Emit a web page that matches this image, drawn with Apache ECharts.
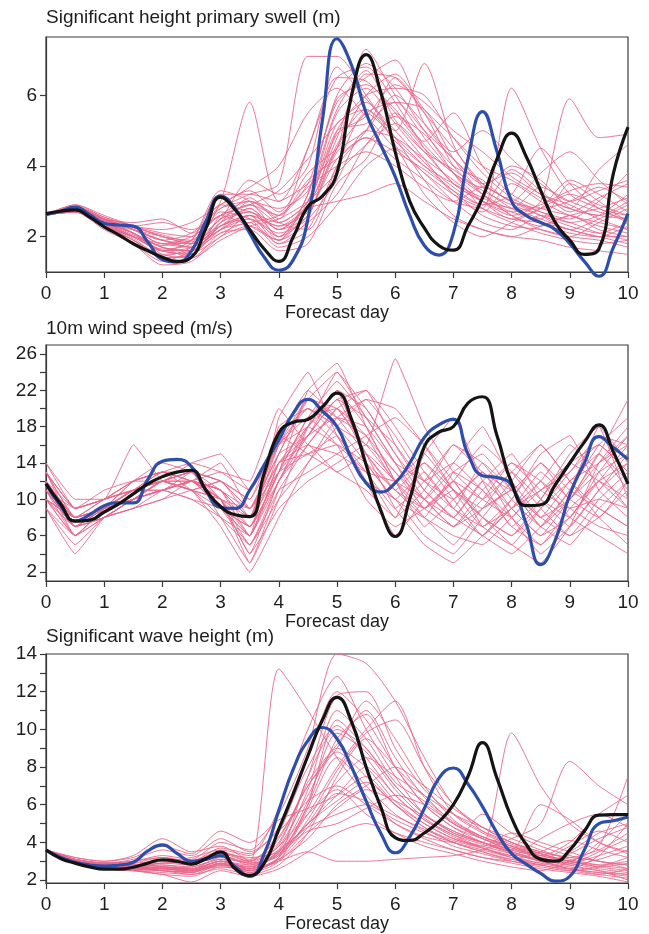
<!DOCTYPE html>
<html>
<head>
<meta charset="utf-8">
<title>Ensemble forecast plumes</title>
<script src="https://cdn.jsdelivr.net/npm/echarts@6/dist/echarts.min.js"></script>
<style>
  html, body { margin: 0; padding: 0; background: #ffffff; }
  #chart { width: 649px; height: 934px; }
</style>
</head>
<body>
<div id="chart"></div>
<script>
// Time axes (forecast day)
const halfDays = [0,0.5,1,1.5,2,2.5,3,3.5,4,4.5,5,5.5,6,6.5,7,7.5,8,8.5,9,9.5,10];
const quarterDays = [0,0.25,0.5,0.75,1,1.25,1.5,1.75,2,2.25,2.5,2.75,3,3.25,3.5,3.75,4,4.25,4.5,4.75,5,
  5.25,5.5,5.75,6,6.25,6.5,6.75,7,7.25,7.5,7.75,8,8.25,8.5,8.75,9,9.25,9.5,9.75,10];
const dayTicks = [0,1,2,3,4,5,6,7,8,9,10];

// Panel titles
const titles = ['Significant height primary swell (m)', '10m wind speed (m/s)', 'Significant wave height (m)'];
const xName = 'Forecast day';

// Tick values on the vertical axes
const swellTicks = [2,4,6];
const swellLabels = [2,4,6];
const windTicks = [2,4,6,8,10,12,14,16,18,20,22,24,26];
const windLabels = [2,6,10,14,18,22,26];
const waveTicks = [2,3,4,5,6,7,8,9,10,11,12,13,14];
const waveLabels = [2,4,6,8,10,12,14];

// Primary swell height (m): ensemble members every 12 h
const swellMembers = [
  [2.62,2.8,2.4,2.1,1.6,1.5,2.6,3.0,2.5,4.5,6.5,6.8,5.8,4.5,3.5,3.0,2.8,2.5,2.2,2.0,1.8],
  [2.62,2.75,2.5,2.2,1.9,1.7,2.4,2.8,2.0,3.0,5.5,6.2,5.2,4.2,3.2,2.7,3.5,3.0,2.6,2.4,2.2],
  [2.63,2.9,2.6,2.3,2.0,1.8,3.0,5.8,3.0,3.5,4.5,7.3,6.0,4.8,3.8,3.0,2.5,2.8,3.2,2.9,2.6],
  [2.62,2.7,2.3,1.9,1.4,1.5,2.0,2.6,1.8,2.2,4.0,5.0,6.5,5.5,4.0,3.2,2.6,2.2,2.0,2.4,2.8],
  [2.62,2.85,2.5,2.4,2.5,2.1,2.8,3.2,3.5,7.1,7.1,6.0,4.8,3.6,2.6,2.2,2.0,1.9,1.7,1.6,1.5],
  [2.62,2.7,2.2,1.8,1.3,1.6,2.2,2.4,2.6,3.5,5.8,6.5,7.0,5.2,4.2,3.5,3.0,2.8,3.0,3.4,3.0],
  [2.62,2.8,2.4,2.0,1.6,1.9,3.3,3.0,2.2,2.6,4.6,5.6,5.0,6.9,4.6,3.4,2.8,2.4,2.1,2.0,2.3],
  [2.63,2.75,2.35,2.0,1.7,1.4,2.1,2.2,1.6,1.8,3.5,4.2,5.5,4.6,3.8,3.4,4.0,3.6,2.8,2.6,2.5],
  [2.62,2.9,2.55,2.3,2.2,2.4,2.9,3.4,4.0,5.5,6.2,5.4,4.5,3.8,3.0,2.4,2.2,2.6,2.4,2.1,1.9],
  [2.62,2.7,2.3,1.8,1.2,1.3,2.0,2.3,1.9,2.8,4.8,6.6,6.5,5.5,4.5,3.5,3.0,2.6,2.2,2.5,2.9],
  [2.62,2.8,2.5,2.2,1.8,2.0,2.6,2.9,3.3,4.2,5.2,5.8,4.6,3.2,2.4,2.0,2.4,2.8,3.6,3.2,2.7],
  [2.62,2.75,2.4,2.1,1.7,1.6,2.3,2.6,2.3,2.7,4.2,4.8,4.2,3.6,3.0,2.8,6.2,4.5,3.2,2.8,2.4],
  [2.63,2.8,2.45,2.2,1.9,1.7,2.5,2.7,2.0,3.2,5.9,6.3,5.6,4.7,5.5,4.0,3.2,2.8,2.6,2.3,2.1],
  [2.62,2.85,2.5,2.1,1.5,1.4,1.9,2.3,2.5,3.0,3.8,4.6,5.2,4.4,3.5,3.0,2.6,3.0,5.9,4.8,4.9],
  [2.62,2.7,2.3,2.0,1.6,1.5,2.4,3.1,2.4,2.2,4.0,5.5,4.8,4.0,3.3,2.6,2.3,2.2,2.0,1.9,1.7],
  [2.62,2.75,2.4,2.2,2.0,1.8,2.7,2.5,1.8,2.5,5.0,6.0,6.2,6.0,4.8,3.8,3.1,2.7,2.4,2.6,3.2],
  [2.62,2.8,2.45,2.1,1.6,1.7,2.3,2.8,2.2,2.8,3.0,3.2,3.5,3.0,2.5,2.2,2.0,2.3,2.6,2.8,3.1],
  [2.62,2.8,2.5,2.3,2.1,2.0,2.9,3.3,2.7,3.8,4.5,5.5,5.8,5.0,4.2,3.5,3.8,3.2,2.9,2.5,2.2],
  [2.62,2.7,2.35,1.9,1.5,1.6,2.1,2.4,1.7,2.0,2.9,4.0,4.5,3.8,3.2,2.8,2.5,2.4,2.2,2.0,2.0],
  [2.62,2.85,2.5,2.2,1.8,1.9,3.2,3.2,3.0,4.5,6.5,6.4,5.5,4.5,3.8,3.2,2.8,3.4,3.0,2.7,2.5],
  [2.63,2.75,2.4,2.0,1.6,1.6,2.3,2.5,2.0,2.6,4.4,5.0,6.0,5.2,4.4,5.0,4.2,3.5,3.0,3.3,3.6],
  [2.62,2.8,2.45,2.3,2.4,2.2,2.6,2.9,2.4,3.0,5.2,5.6,4.7,4.0,3.5,3.1,2.7,2.5,3.5,3.0,2.4],
  [2.62,2.7,2.3,1.9,1.4,1.5,2.2,2.6,1.9,3.2,6.0,6.9,6.2,5.0,3.8,2.8,2.4,2.1,1.9,1.8,1.9],
  [2.62,2.8,2.5,2.2,1.9,1.8,2.5,2.9,2.6,3.4,4.0,4.4,4.0,3.4,3.0,3.4,3.0,2.7,2.5,3.0,3.8],
  [2.62,2.75,2.4,2.1,1.7,1.6,2.4,2.7,2.2,2.9,5.0,5.2,5.8,5.6,4.2,3.2,2.6,2.3,2.6,2.2,2.0],
  [2.62,2.8,2.5,2.2,1.9,2.1,2.8,3.0,2.6,3.6,4.2,4.8,4.4,3.9,3.3,2.9,3.2,4.5,3.5,2.8,2.6],
  [2.62,2.85,2.55,2.3,2.0,1.9,2.3,2.6,2.3,2.9,4.5,6.0,6.6,5.6,4.8,4.0,3.6,3.1,2.8,2.6,3.0],
  [2.62,2.7,2.3,2.0,1.8,1.7,2.2,2.5,2.1,2.5,3.6,5.0,4.8,4.2,3.6,3.0,2.7,2.9,3.3,3.5,3.4],
  [2.62,2.78,2.42,2.05,1.75,1.9,2.5,3.6,3.2,4.0,6.8,5.9,5.0,4.1,3.4,2.9,3.9,3.3,2.7,3.1,3.5],
  [2.62,2.72,2.35,1.95,1.45,1.7,2.6,2.3,1.9,2.4,3.2,4.6,5.4,4.9,4.0,3.6,3.0,3.8,4.4,3.6,2.9],
  [2.62,2.82,2.48,2.25,2.05,1.85,2.2,3.0,2.8,3.3,5.6,6.7,5.3,4.4,3.9,3.3,2.9,2.6,2.3,2.1,2.4],
  [2.62,2.76,2.38,2.0,1.65,1.8,2.9,2.7,2.4,3.0,4.9,5.4,6.3,5.8,5.0,4.4,3.7,3.2,2.8,3.9,4.6]
];
// Primary swell height (m): high-resolution run (blue) and control (black), every 6 h
const swellBlue = [2.62,2.72,2.84,2.62,2.38,2.33,2.3,1.85,1.35,1.28,1.6,2.45,3.15,2.8,2.1,1.42,1.05,1.35,2.5,5.3,7.6,
  6.85,5.5,4.6,3.7,2.6,1.75,1.48,2.1,4.2,5.54,4.4,3.0,2.6,2.4,2.2,1.8,1.3,0.88,1.7,2.65];
const swellBlack = [2.65,2.72,2.76,2.55,2.28,2.05,1.8,1.6,1.42,1.3,1.42,2.25,3.12,2.76,2.2,1.65,1.3,2.0,2.85,3.15,3.8,
  6.0,7.15,6.1,4.4,3.0,2.25,1.75,1.62,2.3,3.1,4.2,4.93,4.27,3.3,2.4,1.9,1.5,1.65,3.8,5.1];

// 10 m wind speed (m/s): ensemble members every 12 h
const windMembers = [
  [12,7,9,11,11,12,9,6,14,17,22,18,12,8,5,9,11,7,10,14,16],
  [10,8,9,10,12,13,10,4,12,16,20,22,16,11,8,12,9,6,8,12,10],
  [13,9,10,12,13,11,8,3,10,18,24,19,14,9,12,7,5,9,13,16,13],
  [11,6,8,10,11,12,14,9,16,20,18,14,10,13,9,6,10,14,11,9,7],
  [14,10,10,16,12,11,7,2,8,14,19,21,17,12,9,14,11,7,5,9,12],
  [9,5,8,9,10,12,11,7,13,22,25,18,12,7,10,13,8,4,7,11,15],
  [12,8,9,11,12,13,12,10,17,15,13,11,8,15,19,12,7,10,14,12,9],
  [10,7,8,10,11,10,9,6,19,24,17,12,10,6,4,8,12,16,12,8,5],
  [11,9,10,12,13,14,13,11,16,18,22,20,15,10,7,9,13,10,8,13,17],
  [13,7,9,10,12,11,10,8,14,15,16,14,11,9,12,16,13,9,6,8,11],
  [12,8,10,11,11,13,8,5,11,13,15,17,19,16,12,8,5,3,7,14,18],
  [10,6,9,12,14,13,10,9,15,21,20,16,25.5,18,13,10,8,12,9,7,6],
  [9,4,8,10,12,12,11,6,12,17,21,15,9,5,3,6,9,11,14,16,13],
  [11,8,9,10,11,12,13,12,20,16,15,13,12,14,11,9,11,8,10,15,21],
  [14,9,10,11,12,11,9,7,13,19,23,19,14,10,13,11,7,5,9,12,14],
  [12,7,8,9,10,11,12,8,18,20,17,13,8,11,16,14,10,7,11,18,10],
  [10,8,9,11,13,12,10,4,9,12,14,16,13,9,7,11,14,12,8,6,4],
  [13,9,11,12,12,14,15,11,17,22,19,15,11,8,6,5,8,11,13,17,16],
  [11,7,9,10,11,10,8,6,14,18,21,22,18,13,9,7,10,15,17,11,8],
  [12,8,10,12,13,13,11,9,13,15,17,12,6,10,14,18,12,8,6,10,13],
  [9,6,8,9,11,12,10,3,11,16,20,17,12,15,11,8,6,9,12,15,11],
  [11,7,9,11,12,11,12,10,16,19,16,10,7,9,12,10,13,16,12,9,7],
  [13,8,9,10,12,13,9,7,15,21,24,20,15,11,8,6,4,7,11,16,19],
  [10,7,8,10,11,12,11,8,13,17,19,18,14,12,10,13,9,6,10,13,15],
  [12,9,10,11,12,11,10,5,10,14,18,21,20,16,11,7,9,13,10,8,12],
  [11,8,9,12,13,12,10,7,12,18,22,14,10,8,13,15,11,8,12,14,17],
  [10,6,9,11,12,13,12,9,14,16,13,15,12,10,7,10,14,11,9,10,9],
  [13,8,9,10,11,12,11,8,17,20,18,16,12,9,11,8,6,10,15,18,14],
  [12,6,9,10,12,12,10,6,13,19,20,15,11,14,10,6,9,12,16,13,9],
  [10,8,9,11,12,13,12,9,15,17,21,19,16,12,14,11,8,5,8,12,16],
  [11,7,8,10,11,12,9,5,12,18,16,13,9,12,16,13,11,14,10,15,12],
  [13,9,10,11,13,12,11,8,16,21,19,17,13,10,8,12,15,10,7,11,14]
];
const windBlue = [11.7,9.3,7.6,8.3,9.3,9.6,9.6,12.2,14.2,14.4,13.6,11.0,9.1,9.0,11.0,13.8,16.5,19.5,21.0,19.7,18.0,
  14.5,11.8,10.8,11.8,14.0,16.8,18.2,18.8,15.0,12.6,12.4,11.5,7.3,2.8,5.5,10.5,14.0,16.9,15.7,14.4];
const windBlack = [11.7,9.5,7.6,7.7,8.6,9.5,10.6,11.7,12.5,13.0,13.2,11.0,9.2,8.3,8.1,12.9,17.3,18.5,18.8,20.2,21.7,
  18.8,13.8,8.8,5.9,10.0,15.8,17.4,18.0,20.6,21.3,17.0,11.8,9.3,9.4,11.6,14.0,16.3,18.2,15.2,11.7];

// Significant wave height (m): ensemble members every 12 h
const waveMembers = [
  [3.6,3.0,2.7,2.6,2.6,2.5,2.8,2.4,3.2,6.0,10.5,9.0,7.0,5.5,4.5,4.0,3.6,3.2,2.9,3.3,3.8],
  [3.6,3.1,2.8,2.9,3.2,2.9,3.5,3.0,4.5,8.5,12.0,10.5,8.0,6.0,4.8,4.0,3.5,3.0,2.6,2.4,2.2],
  [3.6,3.2,3.0,3.3,4.2,3.5,3.8,3.0,13.2,11.0,8.5,6.5,5.0,4.2,3.6,3.2,3.0,2.8,3.5,4.5,5.0],
  [3.6,2.9,2.6,2.5,2.4,2.3,2.6,2.3,2.8,4.5,7.5,9.5,8.0,6.5,5.0,4.2,3.6,3.3,4.0,5.5,6.5],
  [3.6,3.0,2.8,2.7,2.9,3.0,3.4,3.2,3.5,5.0,6.5,8.0,6.5,5.2,4.4,3.8,4.5,4.0,3.5,3.0,2.8],
  [3.6,3.1,2.9,3.0,3.3,3.1,4.0,3.6,5.5,9.0,14.0,13.5,11.5,8.5,6.0,4.8,4.0,3.5,3.2,3.0,2.6],
  [3.6,2.9,2.7,2.6,2.7,2.5,3.0,2.8,3.6,4.8,5.5,6.0,5.2,4.5,4.0,3.6,3.2,2.9,2.6,2.4,2.3],
  [3.6,3.0,2.7,2.5,2.3,2.2,2.7,2.6,4.2,7.0,9.0,11.5,9.5,7.0,5.2,4.3,3.8,3.4,3.0,2.7,2.5],
  [3.6,3.1,2.9,2.8,3.0,3.2,3.6,3.3,5.8,10.0,12.8,10.0,7.5,5.5,4.5,4.0,9.8,7.0,5.0,4.0,3.5],
  [3.6,3.0,2.8,2.6,2.5,2.4,2.9,2.5,3.0,3.5,3.0,3.0,3.1,3.2,3.3,3.6,4.2,5.0,8.3,7.0,6.0],
  [3.6,2.9,2.6,2.5,2.6,2.7,3.1,3.0,3.8,6.5,9.0,8.0,6.2,5.0,4.2,3.8,3.4,3.0,2.7,2.5,2.0],
  [3.6,3.0,2.8,2.8,3.0,2.9,3.3,2.8,3.5,5.5,8.0,10.0,11.5,8.0,5.5,4.5,3.8,3.2,2.9,3.5,4.2],
  [3.6,3.1,2.9,3.1,3.6,3.3,4.2,3.5,4.6,6.2,7.0,6.0,5.0,4.3,4.0,5.5,4.5,3.8,3.3,3.0,2.8],
  [3.6,3.0,2.7,2.6,2.5,2.4,2.8,2.6,3.4,4.6,5.0,5.8,6.5,6.0,5.0,4.2,3.6,6.0,5.2,4.0,3.4],
  [3.6,2.9,2.7,2.7,2.8,2.6,3.0,2.4,3.0,5.8,8.5,7.0,5.5,4.6,3.8,3.4,3.0,2.7,2.5,2.7,3.2],
  [3.6,3.0,2.8,2.7,2.6,2.5,2.7,2.5,3.2,7.5,10.0,9.0,7.0,5.5,4.6,4.0,3.4,3.0,2.6,2.3,2.1],
  [3.6,3.2,3.0,3.2,3.8,3.4,4.6,4.0,5.2,5.8,6.5,7.5,6.0,4.8,4.1,3.7,3.3,4.2,5.0,5.5,4.8],
  [3.6,3.0,2.8,2.6,2.6,2.5,3.0,2.7,3.6,6.8,11.0,9.5,7.2,6.2,5.0,4.3,3.8,3.3,3.0,2.8,3.0],
  [3.6,2.9,2.6,2.5,2.3,1.9,2.5,2.2,2.6,3.5,4.5,5.0,4.5,4.0,3.6,3.2,2.9,2.6,2.4,2.2,1.9],
  [3.6,3.1,2.9,2.8,2.9,3.0,3.5,3.1,4.0,7.5,11.8,12.0,9.0,6.8,5.5,4.6,4.0,3.5,3.2,3.6,4.5],
  [3.6,3.0,2.7,2.6,2.7,2.6,3.2,2.9,3.3,5.0,7.2,8.5,7.5,6.5,5.5,4.8,4.2,3.6,3.1,2.8,2.6],
  [3.6,3.0,2.8,2.7,2.8,2.7,3.1,2.6,3.1,4.2,6.0,7.0,8.0,7.0,5.8,4.8,4.0,3.4,3.0,4.0,5.5],
  [3.6,3.1,2.9,3.0,3.2,3.0,3.7,3.4,4.8,8.0,10.2,8.5,6.5,5.2,4.3,3.7,3.2,2.8,2.5,2.3,2.6],
  [3.6,3.0,2.7,2.6,2.5,2.3,2.8,2.7,3.8,5.5,6.8,5.5,4.5,3.8,3.4,3.0,2.7,2.5,3.0,3.8,7.5],
  [3.6,2.9,2.7,2.7,2.9,2.8,3.3,2.9,3.3,6.0,9.5,10.8,8.0,6.0,4.8,4.2,3.7,3.3,2.9,2.6,2.4],
  [3.6,3.0,2.8,2.7,2.7,2.6,3.0,2.6,3.0,4.5,5.8,6.8,6.2,5.4,4.6,4.0,3.5,3.1,3.8,4.6,4.0],
  [3.6,3.1,2.9,2.9,3.0,2.8,3.4,3.0,4.3,7.0,8.8,7.5,6.0,4.8,4.0,3.5,3.1,2.8,2.6,3.3,5.0],
  [3.6,3.0,2.7,2.6,2.6,2.4,2.9,2.5,3.2,5.2,7.8,9.8,10.5,8.0,6.0,4.6,3.9,3.4,3.0,2.7,2.9],
  [3.6,3.05,2.75,2.65,2.7,2.6,3.0,2.7,3.5,6.2,9.8,8.8,6.8,5.3,4.4,3.9,3.5,3.1,2.8,3.1,3.6],
  [3.6,2.95,2.7,2.6,2.5,2.45,2.9,2.6,3.4,5.0,6.2,7.2,6.0,5.0,4.2,3.7,3.3,2.9,3.4,4.2,4.8],
  [3.6,3.1,2.85,2.8,3.0,2.85,3.3,2.9,3.9,7.2,9.2,11.0,8.5,6.4,5.1,4.3,3.7,3.2,2.8,2.5,2.3],
  [3.6,3.0,2.75,2.65,2.65,2.55,2.85,2.5,3.1,4.8,6.6,6.2,5.4,4.7,4.0,3.5,3.1,3.5,4.1,3.6,3.2]
];
const waveBlue = [3.6,3.2,2.95,2.8,2.74,2.8,2.95,3.55,3.87,3.42,3.0,3.1,3.3,2.7,2.2,3.4,5.7,7.9,9.4,10.1,9.5,
  8.0,6.2,4.5,3.45,4.3,5.8,7.4,7.95,7.1,5.9,4.5,3.4,2.85,2.35,1.95,2.2,3.6,5.0,5.15,5.35];
const waveBlack = [3.6,3.15,2.9,2.7,2.58,2.58,2.68,2.9,3.08,3.0,2.85,3.15,3.5,2.6,2.25,2.9,4.7,6.6,8.6,10.5,11.7,
  10.4,8.0,5.9,4.25,4.1,4.5,5.1,6.0,7.5,9.3,7.4,5.3,3.9,3.1,3.0,3.6,4.6,5.45,5.47,5.47];

// Styling
const FONT = '"Liberation Sans", Arial, Helvetica, sans-serif';
const INK = '#1e1e1e';
const MEMBER_COLOR = '#e8688b';
const BLUE = '#2d4eab';
const BLACK = '#141414';

function pairs(xs, ys) { return xs.map((x, i) => [x, ys[i]]); }

// Wind members are drawn with sharper corners than the wave fields
const panels = [
  { top: 37, height: 235, min: 1, max: 7.65, ticks: swellTicks, labels: swellLabels,
    members: swellMembers, blue: swellBlue, black: swellBlack, titleTop: 8, memberSmooth: 0.25 },
  { top: 345, height: 236, min: 1, max: 27, ticks: windTicks, labels: windLabels,
    members: windMembers, blue: windBlue, black: windBlack, titleTop: 319, memberSmooth: 0.1 },
  { top: 654, height: 233, min: 1.84, max: 14, ticks: waveTicks, labels: waveLabels,
    members: waveMembers, blue: waveBlue, black: waveBlack, titleTop: 627, memberSmooth: 0.25 }
];

const option = {
  backgroundColor: '#ffffff',
  animation: false,
  title: panels.map((p, i) => ({
    text: titles[i], left: 46, top: p.titleTop, padding: 0,
    textStyle: { fontFamily: FONT, fontSize: 19, fontWeight: 'normal', color: INK }
  })),
  grid: panels.map(p => ({
    left: 46, right: 21, top: p.top, height: p.height,
    show: true, borderColor: '#3a3a3a', borderWidth: 1.2, backgroundColor: 'transparent'
  })),
  xAxis: panels.map((p, i) => ({
    type: 'value', gridIndex: i, min: 0, max: 10, interval: 1,
    name: xName, nameLocation: 'middle', nameGap: 30,
    nameTextStyle: { fontFamily: FONT, fontSize: 18, color: INK },
    axisLine: { show: true, lineStyle: { color: '#3a3a3a', width: 1.2 } },
    axisTick: { show: true, inside: false, length: 6, lineStyle: { color: '#3a3a3a', width: 1.2 },
      customValues: dayTicks },
    axisLabel: { fontFamily: FONT, fontSize: 19, color: INK, margin: 12, customValues: dayTicks },
    splitLine: { show: false }
  })),
  yAxis: panels.map((p, i) => ({
    type: 'value', gridIndex: i, min: p.min, max: p.max,
    axisLine: { show: true, lineStyle: { color: '#3a3a3a', width: 1.2 } },
    axisTick: { show: true, inside: false, length: 6, lineStyle: { color: '#3a3a3a', width: 1.2 },
      customValues: p.ticks },
    axisLabel: { fontFamily: FONT, fontSize: 19, color: INK, margin: 9, customValues: p.labels },
    splitLine: { show: false }
  })),
  series: []
};

panels.forEach((p, i) => {
  p.members.forEach((m, k) => {
    option.series.push({
      type: 'line', name: 'member ' + (k + 1), xAxisIndex: i, yAxisIndex: i,
      data: pairs(halfDays, m), showSymbol: false, smooth: p.memberSmooth, z: 2,
      lineStyle: { color: MEMBER_COLOR, width: 0.9, opacity: 1 },
      silent: true
    });
  });
  option.series.push({
    type: 'line', name: 'high resolution', xAxisIndex: i, yAxisIndex: i,
    data: pairs(quarterDays, p.blue), showSymbol: false, smooth: 0.5, clip: false, z: 4,
    lineStyle: { color: BLUE, width: 3.2 }, silent: true
  });
  option.series.push({
    type: 'line', name: 'control', xAxisIndex: i, yAxisIndex: i,
    data: pairs(quarterDays, p.black), showSymbol: false, smooth: 0.5, clip: false, z: 5,
    lineStyle: { color: BLACK, width: 3.2 }, silent: true
  });
});

const chart = echarts.init(document.getElementById('chart'), null, { renderer: 'canvas' });
chart.setOption(option);
</script>
</body>
</html>
